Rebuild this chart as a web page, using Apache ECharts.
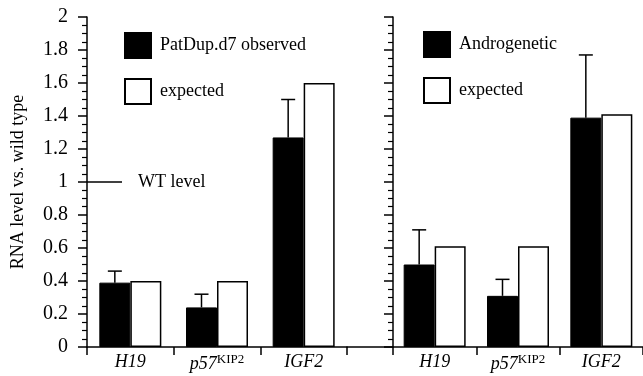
<!DOCTYPE html>
<html>
<head>
<meta charset="utf-8">
<script src="https://cdn.jsdelivr.net/npm/echarts@6/dist/echarts.min.js"></script>
<style>
  html, body { margin: 0; padding: 0; background: #fff; }
  #chart { width: 643px; height: 376px; }
</style>
</head>
<body>
<div id="chart"></div>
<script>
// genes on the x axis ("^" marks a superscript)
const genes = ['H19', 'p57^KIP2', 'IGF2'];

// left panel: PatDup.d7
const patdupObserved = [0.39, 0.24, 1.27];
const patdupErrTop = [0.46, 0.32, 1.50];
const patdupExpected = [0.40, 0.40, 1.60];

// right panel: androgenetic
const androObserved = [0.50, 0.31, 1.39];
const androErrTop = [0.71, 0.41, 1.77];
const androExpected = [0.61, 0.61, 1.41];

const wtLevel = 1;
const yMin = 0, yMax = 2, yStep = 0.2;

const FONT = '"Liberation Serif", "DejaVu Serif", serif';
const chart = echarts.init(document.getElementById('chart'));

const BAR_W = 31;

function errData(obs, top) {
  return obs.map((v, i) => [i, v, top[i]]);
}

// vertical error line with a cap, centred on the black bar
function renderErr(params, api) {
  const i = api.value(0);
  const x = api.coord([i, 0])[0] - BAR_W / 2;
  const lo = api.coord([i, api.value(1)])[1];
  const hi = api.coord([i, api.value(2)])[1];
  const st = { stroke: '#000', lineWidth: 1.5 };
  return {
    type: 'group',
    children: [
      { type: 'line', shape: { x1: x, y1: lo, x2: x, y2: hi }, style: st },
      { type: 'line', shape: { x1: x - 7, y1: hi, x2: x + 7, y2: hi }, style: st }
    ]
  };
}

function yAxisCfg(gridIndex, showLabels) {
  return {
    type: 'value',
    gridIndex: gridIndex,
    min: yMin,
    max: yMax,
    interval: yStep,
    splitLine: { show: false },
    axisLine: { show: true, lineStyle: { color: '#000', width: 1.5 } },
    axisTick: { show: true, length: 9, lineStyle: { color: '#000', width: 1.5 } },
    minorTick: { show: true, splitNumber: 4, length: 5, lineStyle: { color: '#000', width: 1.2 } },
    axisLabel: {
      show: showLabels,
      color: '#000',
      fontFamily: FONT,
      fontSize: 20,
      margin: 19
    },
    name: showLabels ? 'RNA level vs. wild type' : '',
    nameLocation: 'middle',
    nameGap: 60,
    nameTextStyle: { color: '#000', fontFamily: FONT, fontSize: 18 }
  };
}

function xAxisCfg(gridIndex) {
  return {
    type: 'category',
    gridIndex: gridIndex,
    data: genes,
    axisLine: { lineStyle: { color: '#000', width: 1.5 } },
    axisTick: { show: true, length: 8, interval: 0, lineStyle: { color: '#000', width: 1.5 } },
    axisLabel: {
      interval: 0,
      margin: 6,
      formatter: function (v) {
        const parts = v.split('^');
        return parts.length > 1 ? '{i|' + parts[0] + '}{s|' + parts[1] + '}' : '{i|' + v + '}';
      },
      rich: {
        i: { fontFamily: FONT, fontStyle: 'italic', fontSize: 18, color: '#000' },
        s: { fontFamily: FONT, fontSize: 13, color: '#000', padding: [0, 0, 10, 0] }
      }
    }
  };
}

const legendText = { color: '#000', fontFamily: FONT, fontSize: 18, padding: [0, 0, 0, 4] };

chart.setOption({
  animation: false,
  backgroundColor: '#fff',
  grid: [
    { left: 87, top: 17, width: 260, height: 330 },
    { left: 393, top: 17, width: 254, height: 330 },
    { left: 347, top: 17, width: 46, height: 330 }
  ],
  legend: [
    {
      data: ['PatDup.d7 observed', 'expected'],
      left: 124, top: 32, padding: 0,
      orient: 'vertical',
      icon: 'rect',
      itemWidth: 26, itemHeight: 25,
      itemGap: 19,
      selectedMode: false,
      textStyle: legendText
    },
    {
      data: ['Androgenetic', 'expected'],
      left: 423, top: 31, padding: 0,
      orient: 'vertical',
      icon: 'rect',
      itemWidth: 26, itemHeight: 25,
      itemGap: 19,
      selectedMode: false,
      textStyle: legendText
    }
  ],
  xAxis: [
    xAxisCfg(0),
    xAxisCfg(1),
    {
      type: 'category', gridIndex: 2, data: [''],
      axisLine: { lineStyle: { color: '#000', width: 1.5 } },
      axisTick: { show: false }, axisLabel: { show: false }
    }
  ],
  yAxis: [
    yAxisCfg(0, true),
    yAxisCfg(1, false),
    { type: 'value', gridIndex: 2, min: yMin, max: yMax, show: false }
  ],
  series: [
    {
      name: 'PatDup.d7 observed', type: 'bar', xAxisIndex: 0, yAxisIndex: 0,
      data: patdupObserved, barWidth: BAR_W, barGap: '0%',
      itemStyle: { color: '#000', borderColor: '#000', borderWidth: 1 }
    },
    {
      name: 'expected', type: 'bar', xAxisIndex: 0, yAxisIndex: 0,
      data: patdupExpected, barWidth: BAR_W, barGap: '0%',
      itemStyle: { color: '#fff', borderColor: '#000', borderWidth: 1.5 }
    },
    {
      name: 'Androgenetic', type: 'bar', xAxisIndex: 1, yAxisIndex: 1,
      data: androObserved, barWidth: BAR_W, barGap: '0%',
      itemStyle: { color: '#000', borderColor: '#000', borderWidth: 1 }
    },
    {
      name: 'expected', type: 'bar', xAxisIndex: 1, yAxisIndex: 1,
      data: androExpected, barWidth: BAR_W, barGap: '0%',
      itemStyle: { color: '#fff', borderColor: '#000', borderWidth: 1.5 }
    },
    {
      type: 'custom', xAxisIndex: 0, yAxisIndex: 0, z: 5,
      data: errData(patdupObserved, patdupErrTop),
      encode: { x: 0, y: [1, 2] },
      renderItem: renderErr
    },
    {
      type: 'custom', xAxisIndex: 1, yAxisIndex: 1, z: 5,
      data: errData(androObserved, androErrTop),
      encode: { x: 0, y: [1, 2] },
      renderItem: renderErr
    },
    {
      // WT level marker
      type: 'custom', xAxisIndex: 0, yAxisIndex: 0, z: 5,
      data: [[0, wtLevel]],
      encode: { x: 0, y: 1 },
      renderItem: function (params, api) {
        const y = api.coord([0, api.value(1)])[1];
        const x0 = params.coordSys.x;
        return {
          type: 'group',
          children: [
            { type: 'line', shape: { x1: x0, y1: y, x2: x0 + 35, y2: y }, style: { stroke: '#000', lineWidth: 1.5 } },
            {
              type: 'text',
              style: {
                x: x0 + 51, y: y, text: 'WT level',
                fill: '#000', font: '18px ' + FONT,
                verticalAlign: 'middle'
              }
            }
          ]
        };
      }
    }
  ]
});
</script>
</body>
</html>
